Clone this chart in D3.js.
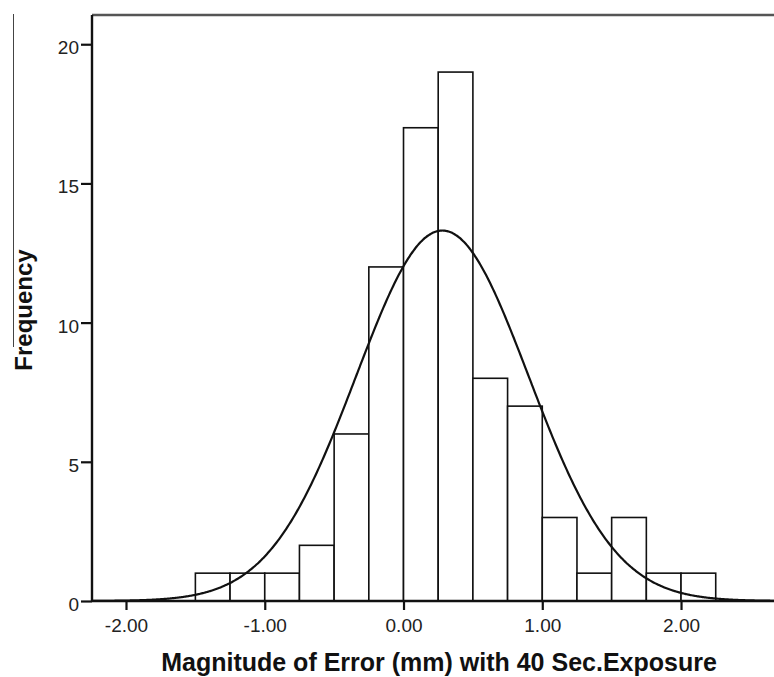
<!DOCTYPE html>
<html>
<head>
<meta charset="utf-8">
<script src="https://cdn.jsdelivr.net/npm/d3@7"></script>
<style>
  body { margin: 0; background: #fff; }
  svg { display: block; font-family: Arial, "Liberation Sans", sans-serif; }
</style>
</head>
<body>
<svg id="hist" width="774" height="677"></svg>
<script>
// bin edges (width 0.25) and counts
const binStarts = [-1.50, -1.25, -1.00, -0.75, -0.50, -0.25, 0.00, 0.25, 0.50, 0.75, 1.00, 1.25, 1.50, 1.75, 2.00]
const counts    = [1, 1, 1, 2, 6, 12, 17, 19, 8, 7, 3, 1, 3, 1, 1]
const binWidth = 0.25

// fitted normal curve parameters
const mean = 0.28
const stdDev = 0.622

const xTicks = [-2, -1, 0, 1, 2]
const yTicks = [0, 5, 10, 15, 20]

const svg = d3.select('#hist')
const plotLeft = 92, plotRight = 774, plotTop = 15, plotBottom = 601

let x = d3.scaleLinear().domain([-2.245, 2.67]).range([plotLeft, plotRight])
let y = d3.scaleLinear().domain([0, 21.05]).range([plotBottom, plotTop])

// little stray line at far left
svg.append('line')
  .attr('x1', 13.5).attr('x2', 13.5).attr('y1', 14).attr('y2', 347)
  .attr('stroke', '#444').attr('stroke-width', 1)

// bars
const bins = binStarts.map((s, i) => ({ x0: s, x1: s + binWidth, n: counts[i] }))
svg.append('g').selectAll('rect').data(bins).join('rect')
  .attr('x', d => x(d.x0))
  .attr('y', d => y(d.n))
  .attr('width', d => x(d.x1) - x(d.x0))
  .attr('height', d => y(0) - y(d.n))
  .attr('fill', '#fff')
  .attr('stroke', '#111')
  .attr('stroke-width', 1.6)

// normal curve scaled to counts
const total = d3.sum(counts)
const curvePts = d3.range(-2.245, 2.68, 0.01).map(v => ({
  x: v,
  y: total * binWidth / (stdDev * Math.sqrt(2 * Math.PI)) * Math.exp(-0.5 * ((v - mean) / stdDev) ** 2)
}))
svg.append('path').datum(curvePts)
  .attr('fill', 'none').attr('stroke', '#111').attr('stroke-width', 2.2)
  .attr('d', d3.line().x(d => x(d.x)).y(d => y(d.y)).curve(d3.curveBasis))

// top frame line
svg.append('line')
  .attr('x1', plotLeft).attr('x2', plotRight).attr('y1', plotTop).attr('y2', plotTop)
  .attr('stroke', '#555').attr('stroke-width', 2.5)

// axes (hyphen minus like the original)
const fmt = d => d3.format('.2f')(d).replace('\u2212', '-')
let xAxis = d3.axisBottom(x).tickValues(xTicks).tickFormat(fmt).tickSizeOuter(0).tickSize(9).tickPadding(6)
let yAxis = d3.axisLeft(y).tickValues(yTicks).tickSizeOuter(0).tickSize(11).tickPadding(2)

const gx = svg.append('g').attr('transform', 'translate(0,' + plotBottom + ')').call(xAxis)
const gy = svg.append('g').attr('transform', 'translate(' + plotLeft + ',0)').call(yAxis)

gx.select('.domain').attr('d', 'M' + plotLeft + ',0H' + plotRight)
gy.select('.domain').attr('d', 'M0,' + plotBottom + 'V' + plotTop)
svg.selectAll('.domain').attr('stroke', '#111').attr('stroke-width', 2.4)
svg.selectAll('.tick line').attr('stroke', '#111').attr('stroke-width', 2.2)
svg.selectAll('.tick text').attr('font-size', 19).attr('fill', '#222').attr('font-family', 'Arial, "Liberation Sans", sans-serif')
gx.selectAll('.tick text').attr('dy', '0.85em')
gy.selectAll('.tick text').attr('dy', '0.5em')

// axis titles
svg.append('text')
  .attr('x', 439).attr('y', 671)
  .attr('text-anchor', 'middle')
  .attr('font-size', 25).attr('font-weight', 'bold').attr('fill', '#111')
  .text('Magnitude of Error (mm) with 40 Sec.Exposure')

svg.append('text')
  .attr('transform', 'translate(32,310) rotate(-90)')
  .attr('text-anchor', 'middle')
  .attr('font-size', 24).attr('font-weight', 'bold').attr('fill', '#111')
  .text('Frequency')
</script>
</body>
</html>
